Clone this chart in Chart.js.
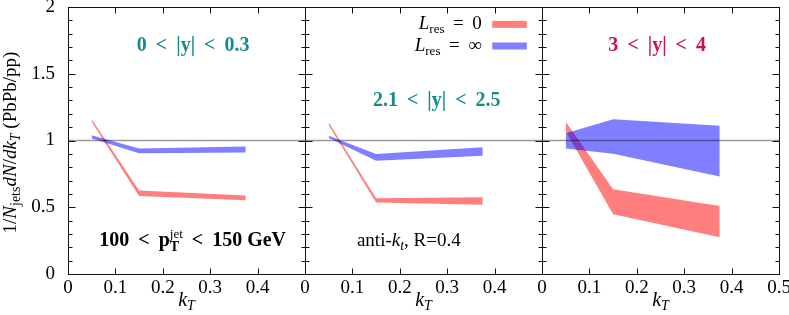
<!DOCTYPE html>
<html>
<head>
<meta charset="utf-8">
<script src="https://cdn.jsdelivr.net/npm/chart.js@4.4.1/dist/chart.umd.min.js"></script>
<style>
  html, body { margin: 0; padding: 0; background: #fff; }
  #wrap { position: relative; width: 789px; height: 315px; }
  #wrap canvas { position: absolute; left: 0; top: 0; }
</style>
</head>
<body>
<div id="wrap">
  <canvas id="c0" width="789" height="315"></canvas>
  <canvas id="c1" width="789" height="315"></canvas>
  <canvas id="c2" width="789" height="315"></canvas>
</div>
<script>
// kT points of the bands
const kT = [0.05, 0.15, 0.375];

// 0 < |y| < 0.3
const red1Lo  = [1.14, 0.585, 0.553];
const red1Hi  = [1.16, 0.625, 0.588];
const blue1Lo = [1.015, 0.905, 0.91];
const blue1Hi = [1.04, 0.94, 0.955];

// 2.1 < |y| < 2.5
const red2Lo  = [1.115, 0.535, 0.518];
const red2Hi  = [1.135, 0.568, 0.575];
const blue2Lo = [1.018, 0.848, 0.885];
const blue2Hi = [1.036, 0.898, 0.95];

// 3 < |y| < 4
const red3Lo  = [1.07, 0.448, 0.275];
const red3Hi  = [1.14, 0.635, 0.51];
const blue3Lo = [0.94, 0.90, 0.73];
const blue3Hi = [1.055, 1.16, 1.11];

const xTicks = [0, 0.1, 0.2, 0.3, 0.4, 0.5];
const yTicks = [0, 0.5, 1, 1.5, 2];
const refLevel = 1;

const RED = 'rgba(255,0,0,0.5)';
const BLUE = 'rgba(0,0,255,0.5)';
const TEAL = '#17898a';
const CRIMSON = '#c81450';

const SERIF = '"Liberation Serif", "DejaVu Serif", serif';
const f = (size, style) => (style ? style + ' ' : '') + size + 'px ' + SERIF;
const R = f(19), I = f(19, 'italic'), B = f(20, 'bold');
const S = f(13), SI = f(14, 'italic'), SB = f(14, 'bold');
const TR = f(19), TI = f(19, 'italic'), TS = f(14);
const TICK = 19;

const edges = [68, 305, 542, 779];
const W = 789, TOP = 7, XAXIS_H = 41, YAXIS_W = 40;

// text pieces: [text, font, dy, noAdvance]
function drawRich(ctx, parts, x, y, align) {
  let w = 0;
  parts.forEach(p => { ctx.font = p[1]; if (!p[3]) w += ctx.measureText(p[0]).width; });
  let cx = align === 'center' ? x - w / 2 : align === 'right' ? x - w : x;
  ctx.textAlign = 'left';
  ctx.textBaseline = 'alphabetic';
  parts.forEach(p => {
    ctx.font = p[1];
    ctx.fillText(p[0], cx, y + (p[2] || 0));
    if (!p[3]) cx += ctx.measureText(p[0]).width;
  });
}

const pts = arr => kT.map((x, i) => ({x: x, y: arr[i]}));

const annot = {
  id: 'annot',
  afterDatasetsDraw(chart) {
    const {ctx, chartArea: a, scales: {x, y}} = chart;
    ctx.save();
    ctx.strokeStyle = '#111';
    ctx.lineWidth = 1;
    const L = Math.round(a.left) + 0.5, Rt = Math.round(a.right) + 0.5;
    const T = Math.round(a.top) + 0.5, Bt = Math.round(a.bottom) + 0.5;
    ctx.beginPath();
    xTicks.forEach(v => {
      const px = Math.round(x.getPixelForValue(v)) + 0.5;
      ctx.moveTo(px, Bt); ctx.lineTo(px, Bt - 6);
      ctx.moveTo(px, T); ctx.lineTo(px, T + 6);
    });
    for (let i = 0; i <= 20; i++) {
      const py = Math.round(y.getPixelForValue(i / 10)) + 0.5;
      const len = i % 5 === 0 ? 7 : 4;
      ctx.moveTo(L, py); ctx.lineTo(L + len, py);
      ctx.moveTo(Rt, py); ctx.lineTo(Rt - len, py);
    }
    ctx.stroke();
    ctx.strokeRect(L, T, Rt - L, Bt - T);
    ctx.restore();
  },
  afterDraw(chart, args, o) {
    const {ctx, chartArea: a, scales: {x, y}} = chart;
    ctx.save();
    ctx.fillStyle = '#000';
    // x title
    drawRich(ctx, [['k', f(20, 'italic')], ['T', SI, 4]], (a.left + a.right) / 2, 306, 'center');
    (o.labels || []).forEach(l => {
      ctx.fillStyle = l.color || '#000';
      drawRich(ctx, l.parts, x.getPixelForValue(l.x), y.getPixelForValue(l.y), l.align || 'center');
    });
    (o.legend || []).forEach(l => {
      ctx.fillStyle = '#000';
      drawRich(ctx, l.parts, x.getPixelForValue(l.x), y.getPixelForValue(l.y), 'right');
      const x0 = x.getPixelForValue(l.x0), x1 = x.getPixelForValue(l.x1);
      const yc = y.getPixelForValue(l.yc);
      ctx.fillStyle = l.color;
      ctx.fillRect(x0, yc - 3.5, x1 - x0, 7);
    });
    if (o.yTitle) {
      ctx.translate(16, (a.top + a.bottom) / 2 + 2);
      ctx.rotate(-Math.PI / 2);
      ctx.fillStyle = '#000';
      drawRich(ctx, [['1/', TR], ['N', TI], ['jets', TS, 4], ['dN', TI], ['/', TR], ['dk', TI], ['T', f(14, 'italic'), 4], [' (PbPb/pp)', TR]], 0, 0, 'center');
    }
    ctx.restore();
  }
};

function makePanel(i, redLo, redHi, blueLo, blueHi, extra) {
  const left = edges[i], right = edges[i + 1];
  const band = {pointRadius: 0, borderWidth: 0, borderColor: 'transparent', tension: 0};
  return new Chart(document.getElementById('c' + i), {
    type: 'line',
    data: {
      datasets: [
        {data: [{x: 0, y: refLevel}, {x: 0.5, y: refLevel}], borderColor: 'rgba(0,0,0,0.4)', borderWidth: 1.5, pointRadius: 0, fill: false},
        Object.assign({data: pts(blueHi), fill: 2, backgroundColor: BLUE}, band),
        Object.assign({data: pts(blueLo), fill: false}, band),
        Object.assign({data: pts(redHi), fill: 4, backgroundColor: RED}, band),
        Object.assign({data: pts(redLo), fill: false}, band)
      ]
    },
    options: {
      responsive: false,
      animation: false,
      devicePixelRatio: 1,
      events: [],
      layout: {padding: {left: i === 0 ? left - YAXIS_W : left, right: W - right, top: TOP, bottom: 0}},
      scales: {
        x: {
          type: 'linear', min: 0, max: 0.5,
          afterBuildTicks: s => { s.ticks = xTicks.map(v => ({value: v})); },
          ticks: {
            font: {family: SERIF, size: TICK}, color: '#000', padding: -5, maxRotation: 0, autoSkip: false,
            callback: v => (i < 2 && v === 0.5) ? '' : String(v)
          },
          grid: {display: false},
          border: {display: false},
          afterFit: s => { s.height = XAXIS_H; s.paddingLeft = s.paddingRight = 0; }
        },
        y: {
          display: i === 0,
          min: 0, max: 2,
          afterBuildTicks: s => { s.ticks = yTicks.map(v => ({value: v})); },
          ticks: {font: {family: SERIF, size: TICK}, color: '#000', padding: 5, callback: v => String(v)},
          grid: {display: false},
          border: {display: false},
          afterFit: s => { s.width = i === 0 ? YAXIS_W : 0; s.paddingTop = s.paddingBottom = 0; }
        }
      },
      plugins: {
        legend: {display: false},
        tooltip: {enabled: false},
        annot: extra
      }
    },
    plugins: [annot]
  });
}

makePanel(0, red1Lo, red1Hi, blue1Lo, blue1Hi, {
  yTitle: true,
  labels: [
    {parts: [['0 \u2009<\u2009 |y| \u2009<\u2009 0.3', B]], x: 0.264, y: 1.67, color: TEAL},
    {parts: [['100 \u2009<\u2009 p', B], ['T', SB, 5, true], ['jet', S, -8], [' \u2009<\u2009 150 GeV', B]], x: 0.263, y: 0.206}
  ]
});
makePanel(1, red2Lo, red2Hi, blue2Lo, blue2Hi, {
  labels: [
    {parts: [['2.1 \u2009<\u2009 |y| \u2009<\u2009 2.5', B]], x: 0.278, y: 1.258, color: TEAL},
    {parts: [['anti-', R], ['k', I], ['t', SI, 4], [', R=0.4', R]], x: 0.219, y: 0.213}
  ],
  legend: [
    {parts: [['L', I], ['res', S, 4], [' \u2009=\u2009 0', R]], x: 0.373, y: 1.835, x0: 0.395, x1: 0.468, yc: 1.87, color: RED},
    {parts: [['L', I], ['res', S, 4], [' \u2009=\u2009 \u221E', R]], x: 0.373, y: 1.674, x0: 0.395, x1: 0.468, yc: 1.708, color: BLUE}
  ]
});
makePanel(2, red3Lo, red3Hi, blue3Lo, blue3Hi, {
  labels: [
    {parts: [['3 \u2009<\u2009 |y| \u2009<\u2009 4', B]], x: 0.243, y: 1.674, color: CRIMSON}
  ]
});
</script>
</body>
</html>
